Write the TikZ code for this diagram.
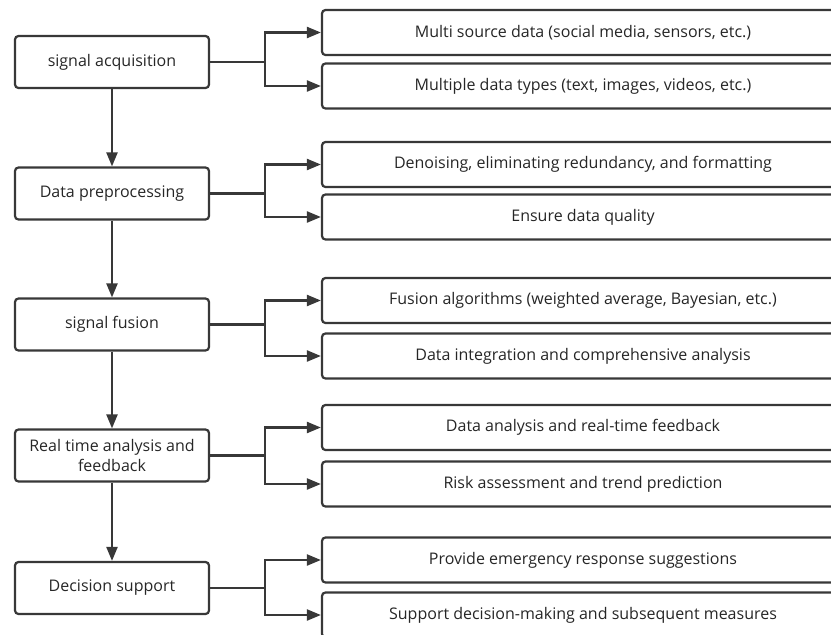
\documentclass[tikz,border=0pt]{standalone}
\usepackage{fontspec}
\setmainfont{Open Sans}
\usetikzlibrary{arrows.meta}
\begin{document}
\begin{tikzpicture}[x=1pt,y=-1pt,
        etape/.style={draw=black!78,line width=2.2pt,rounded corners=3.5pt,
            minimum width=194pt,minimum height=52pt,align=center,inner sep=2pt,
            text=black!85,font=\fontsize{16}{19.5}\selectfont},
        detail/.style={draw=black!78,line width=2.2pt,rounded corners=3.5pt,
            minimum width=522pt,minimum height=45pt,
            text=black!85,font=\fontsize{16}{19.5}\selectfont},
        lien/.style={draw=black!78,line width=2.2pt},
        fleche/.style={lien,-{Triangle[length=14pt,width=11pt]}}]
    \useasboundingbox (0,0) rectangle (831,635);
    \clip (0,0) rectangle (831,635);

    % Les etapes (gauche)
    \node[etape] (L1) at (112,62) {signal acquisition};
    \node[etape] (L2) at (112,193.5) {Data preprocessing};
    \node[etape] (L3) at (112,324.5) {signal fusion};
    \node[etape] (L4) at (112,455.5) {Real time analysis and\\feedback};
    \node[etape] (L5) at (112,588) {Decision support};

    % Les details (droite)
    \node[detail] (R1a) at (583,32.5) {Multi source data (social media, sensors, etc.)};
    \node[detail] (R1b) at (583,86) {Multiple data types (text, images, videos, etc.)};
    \node[detail] (R2a) at (583,164.5) {Denoising, eliminating redundancy, and formatting};
    \node[detail] (R2b) at (583,217) {Ensure data quality};
    \node[detail] (R3a) at (583,300.5) {Fusion algorithms (weighted average, Bayesian, etc.)};
    \node[detail] (R3b) at (583,356) {Data integration and comprehensive analysis};
    \node[detail] (R4a) at (583,427.5) {Data analysis and real-time feedback};
    \node[detail] (R4b) at (583,484) {Risk assessment and trend prediction};
    \node[detail] (R5a) at (583,560) {Provide emergency response suggestions};
    \node[detail] (R5b) at (583,615) {Support decision-making and subsequent measures};

    % Les points de branchement
    \coordinate (B1) at (265,62);
    \coordinate (B2) at (265,193.5);
    \coordinate (B3) at (265,324.5);
    \coordinate (B4) at (265,455.5);
    \coordinate (B5) at (265,588);

    % Fleches verticales
    \draw[fleche] (L1) -- (L2);
    \draw[fleche] (L2) -- (L3);
    \draw[fleche] (L3) -- (L4);
    \draw[fleche] (L4) -- (L5);

    % Branches vers les details
    \draw[lien] (L1.east) -- (B1);
    \draw[fleche] (B1) |- (R1a.west);
    \draw[fleche] (B1) |- (R1b.west);
    \draw[lien] (L2.east) -- (B2);
    \draw[fleche] (B2) |- (R2a.west);
    \draw[fleche] (B2) |- (R2b.west);
    \draw[lien] (L3.east) -- (B3);
    \draw[fleche] (B3) |- (R3a.west);
    \draw[fleche] (B3) |- (R3b.west);
    \draw[lien] (L4.east) -- (B4);
    \draw[fleche] (B4) |- (R4a.west);
    \draw[fleche] (B4) |- (R4b.west);
    \draw[lien] (L5.east) -- (B5);
    \draw[fleche] (B5) |- (R5a.west);
    \draw[fleche] (B5) |- (R5b.west);
\end{tikzpicture}
\end{document}
